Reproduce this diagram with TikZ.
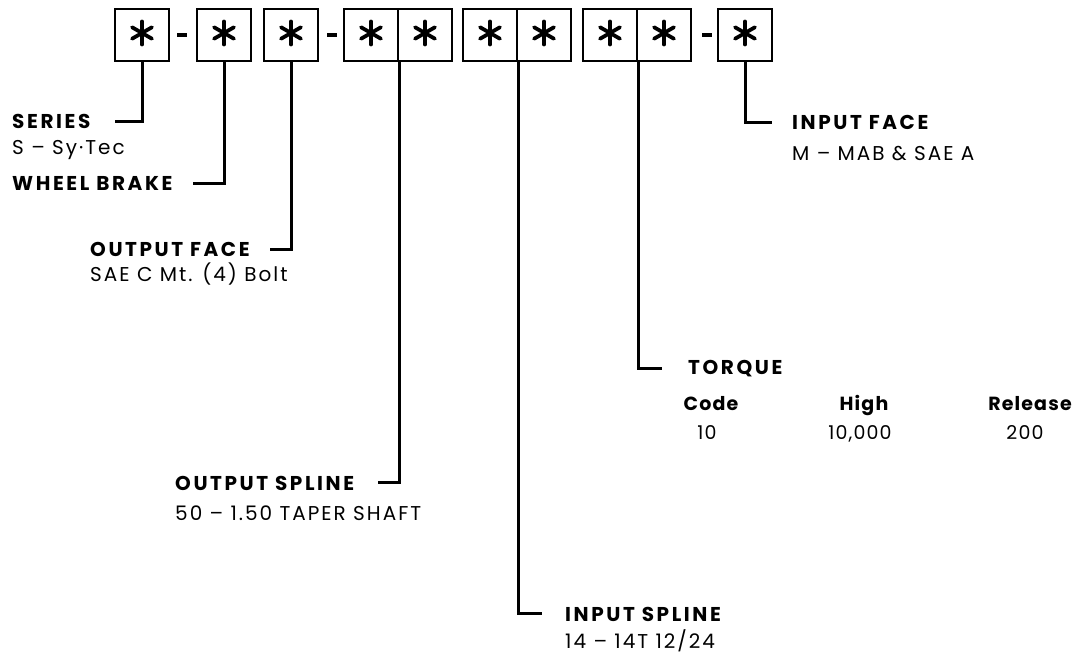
\documentclass[tikz,border=0pt]{standalone}
\usepackage{fontspec}
\setmainfont{Poppins}
\usetikzlibrary{positioning}

\tikzset{
  cell/.style={draw,line width=2.6pt,minimum width=54pt,minimum height=52pt,inner sep=0pt},
  star/.style={line width=3.8pt,line cap=round},
  lead/.style={line width=3pt},
  dashbar/.style={fill,minimum width=10pt,minimum height=4.5pt,inner sep=0pt},
  hd/.style={font=\addfontfeatures{LetterSpace=13}\bfseries\fontsize{20}{22}\selectfont,inner sep=0pt,anchor=base west},
  val/.style={font=\addfontfeatures{LetterSpace=10}\fontsize{20}{22}\selectfont,inner sep=0pt,anchor=base west},
  col/.style={font=\addfontfeatures{LetterSpace=6}\fontsize{19}{21}\selectfont,inner sep=0pt,anchor=base},
  colhd/.style={col,font=\addfontfeatures{LetterSpace=6}\bfseries\fontsize{19}{21}\selectfont},
}

\begin{document}
\begin{tikzpicture}[x=1pt,y=-1pt]
\useasboundingbox (0,0) rectangle (1077,655);
% code cells
\node[cell] (b1) at (142,35) {};
\node[dashbar] (d1) at (181.5,35) {};
\node[cell] (b2) at (224,35) {};
\node[cell] (b3) at (291,35) {};
\node[dashbar] (d2) at (332,35) {};
\node[cell] (b4a) at (371,35) {};\node[cell] (b4b) at (425,35) {};
\node[cell] (b5a) at (490,35) {};\node[cell] (b5b) at (544,35) {};
\node[cell] (b6a) at (610,35) {};\node[cell] (b6b) at (664,35) {};
\node[dashbar] (d3) at (707,35) {};
\node[cell] (b7) at (745,35) {};
\foreach \c in {b1,b2,b3,b4a,b4b,b5a,b5b,b6a,b6b,b7} {
  \foreach \a in {90,30,150} {\draw[star] ([yshift=2pt]\c.center) ++(\a:11.5) -- ++(\a+180:23);}
}
% left labels
\node[hd] (series) at (12,129) {SERIES};
\node[val] (seriesv) at (12,155) {S -- Sy·Tec};
\node[hd] (wheel) at (12,191) {WHEEL BRAKE};
\node[hd] (outface) at (90,257) {OUTPUT FACE};
\node[val] (outfacev) at (90,282) {SAE C Mt. (4) Bolt};
\node[hd] (outspl) at (175,490) {OUTPUT SPLINE};
\node[val] (outsplv) at (175,520) {50 -- 1.50 TAPER SHAFT};
% right labels
\node[hd] (inface) at (792,130) {INPUT FACE};
\node[val] (infacev) at (792,161) {M -- MAB \& SAE A};
\node[hd] (torque) at (688,374) {TORQUE};
\node[colhd] (code) at (711,410) {Code};
\node[colhd] (high) at (864,410) {High};
\node[colhd] (rel) at (1030,410) {Release};
\node[col] (codev) at (707,439) {10};
\node[col] (highv) at (860,439) {10,000};
\node[col] (relv) at (1025,439) {200};
\node[hd] (inspl) at (565,621) {INPUT SPLINE};
\node[val] (insplv) at (565,648) {14 -- 14T 12/24};
% leaders
\draw[lead] (b1.south) |- ([xshift=24pt]series.east);
\draw[lead] (b2.south) |- ([xshift=20pt]wheel.east);
\draw[lead] (b3.south) |- ([xshift=20pt]outface.east);
\draw[lead] (b4a.south east) |- ([xshift=24pt]outspl.east);
\draw[lead] (b5a.south east) |- ([xshift=-23pt]inspl.west);
\draw[lead] (b6a.south east) |- ([xshift=-26pt]torque.west);
\draw[lead] (b7.south) |- ([xshift=-20pt]inface.west);
\end{tikzpicture}
\end{document}
